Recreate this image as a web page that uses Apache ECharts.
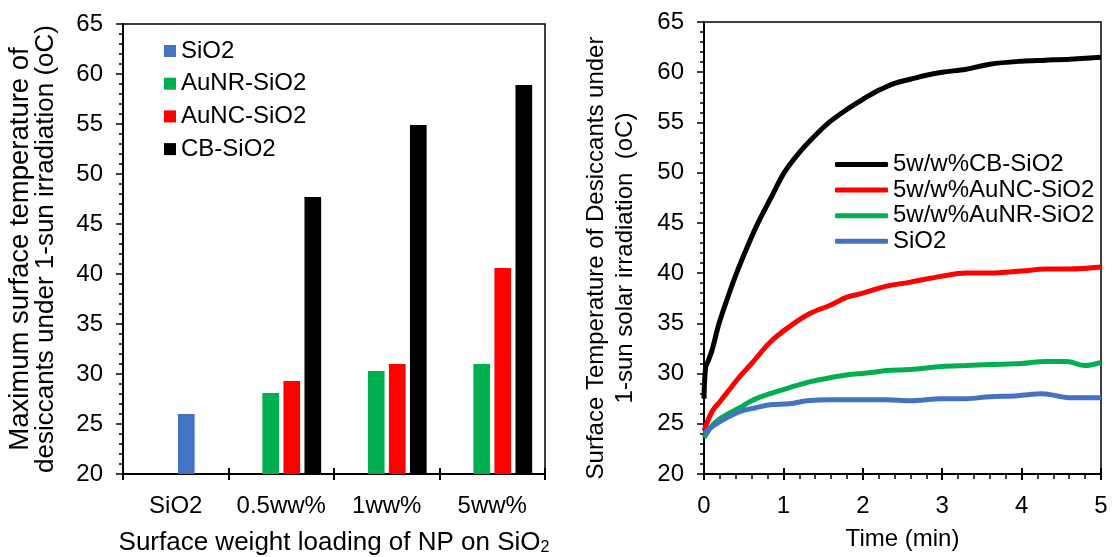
<!DOCTYPE html>
<html><head><meta charset="utf-8">
<script src="https://cdn.jsdelivr.net/npm/echarts@6/dist/echarts.min.js"></script>
<style>html,body{margin:0;padding:0;background:#fff}#c{width:1112px;height:557px}</style>
</head><body><div id="c"></div><script>
// ---- Left chart (bars) ----
const categories = ['SiO2', '0.5ww%', '1ww%', '5ww%'];
const barSiO2 = [26.0, null, null, null];   // drawn in the third slot as in the reference
const barAuNR = [null, 28.1, 30.3, 31.0];
const barAuNC = [null, 29.3, 31.0, 40.6];
const barCB   = [null, 47.7, 54.9, 58.9];
const yTicksLeft = { min: 20, max: 65, interval: 5 };

// ---- Right chart (lines) ----
const tCB = [0, 0.02, 0.05, 0.1, 0.19, 0.3, 0.41, 0.55, 0.68, 0.85, 1.01, 1.2, 1.4, 1.59, 1.8, 2.0, 2.2, 2.4, 2.6, 2.8, 3.0, 3.3, 3.6, 4.0, 4.3, 4.6, 5.0];
const vCB = [27.5, 30.6, 31.2, 32.3, 35.0, 37.6, 40.0, 42.7, 45.0, 47.6, 50.0, 52.0, 53.7, 55.1, 56.3, 57.3, 58.2, 58.9, 59.3, 59.7, 60.0, 60.3, 60.8, 61.1, 61.2, 61.3, 61.5];
const tNC = [0, 0.1, 0.2, 0.3, 0.45, 0.6, 0.83, 1.08, 1.34, 1.59, 1.8, 2.0, 2.3, 2.6, 3.0, 3.3, 3.6, 4.0, 4.3, 4.6, 5.0];
const vNC = [24.3, 26.2, 27.2, 28.2, 29.7, 31.0, 33.1, 34.7, 36.0, 36.8, 37.6, 38.0, 38.7, 39.1, 39.7, 40.0, 40.0, 40.2, 40.4, 40.4, 40.6];
const tNR = [0, 0.1, 0.2, 0.33, 0.45, 0.6, 0.83, 1.08, 1.34, 1.6, 1.84, 2.1, 2.3, 2.6, 3.0, 3.3, 3.6, 4.0, 4.3, 4.57, 4.8, 5.0];
const vNR = [23.6, 24.8, 25.5, 26.1, 26.6, 27.3, 28.0, 28.6, 29.2, 29.6, 29.9, 30.1, 30.3, 30.4, 30.7, 30.8, 30.9, 31.0, 31.2, 31.2, 30.8, 31.1];
const tS  = [0, 0.1, 0.24, 0.45, 0.65, 0.83, 1.08, 1.3, 1.59, 2.0, 2.3, 2.6, 3.0, 3.3, 3.6, 3.95, 4.26, 4.6, 5.0];
const vS  = [24.0, 24.7, 25.4, 26.2, 26.6, 26.9, 27.0, 27.3, 27.4, 27.4, 27.4, 27.3, 27.5, 27.5, 27.7, 27.8, 28.0, 27.6, 27.6];
const xTicksRight = { min: 0, max: 5, interval: 1 };

const C_BLUE = '#4472C4', C_GREEN = '#00B050', C_RED = '#FF0000', C_BLACK = '#000000';
const FONT = "'Liberation Sans', Arial, sans-serif";
const zip = (t, v) => t.map((x, i) => [x, v[i]]);

const chart = echarts.init(document.getElementById('c'), null, { renderer: 'canvas' });

const axisLineStyle = { show: true, lineStyle: { color: '#000', width: 2 } };
const lbl = (m) => ({ fontSize: 24, color: '#000', fontFamily: FONT, margin: m });

const barBase = { type: 'bar', xAxisIndex: 0, yAxisIndex: 0, barWidth: 16.7, barGap: '26%' };
const lineBase = { type: 'line', xAxisIndex: 2, yAxisIndex: 2, showSymbol: false, smooth: 0.35 };
const gridBase = { containLabel: false, outerBoundsMode: 'none' };

const option = {
  animation: false,
  backgroundColor: '#fff',
  textStyle: { fontFamily: FONT },
  grid: [
    Object.assign({ left: 123, top: 24, width: 422, height: 450, show: true, borderColor: '#000', borderWidth: 1.5 }, gridBase),
    Object.assign({ left: 123, top: 24, width: 422, height: 450 }, gridBase),
    Object.assign({ left: 704, top: 22, width: 397, height: 452, show: true, borderColor: '#000', borderWidth: 1.5 }, gridBase),
    Object.assign({ left: 704, top: 22, width: 397, height: 452 }, gridBase)
  ],
  legend: [
    {
      data: ['SiO2', 'AuNR-SiO2', 'AuNC-SiO2', 'CB-SiO2'],
      orient: 'vertical', left: 159, top: 34, icon: 'rect', itemWidth: 12, itemHeight: 12, itemGap: 8.7,
      selectedMode: false,
      textStyle: { fontSize: 24, lineHeight: 24, color: '#000', fontFamily: FONT }
    },
    {
      data: ['5w/w%CB-SiO2', '5w/w%AuNC-SiO2', '5w/w%AuNR-SiO2', 'SiO2 (t)'],
      formatter: n => (n === 'SiO2 (t)' ? 'SiO2' : n),
      orient: 'vertical', left: 830, top: 147, icon: 'roundRect', itemWidth: 53, itemHeight: 5, itemGap: 0.6,
      selectedMode: false,
      textStyle: { fontSize: 24, lineHeight: 25, color: '#000', fontFamily: FONT }
    }
  ],
  xAxis: [
    {
      gridIndex: 0, type: 'category', data: categories,
      axisLine: axisLineStyle,
      axisTick: { show: true, length: 6, lineStyle: { color: '#000', width: 2 } },
      axisLabel: Object.assign(lbl(20), { interval: 0 }),
      name: '{m|Surface weight loading of NP on SiO}{s|2}',
      nameLocation: 'middle', nameGap: 56,
      nameTextStyle: {
        color: '#000', fontFamily: FONT,
        rich: {
          m: { fontSize: 26, lineHeight: 26, verticalAlign: 'top', padding: [0, 0, 5, 0], color: '#000', fontFamily: FONT },
          s: { fontSize: 16, lineHeight: 16, verticalAlign: 'bottom', color: '#000', fontFamily: FONT }
        }
      }
    },
    {
      gridIndex: 1, type: 'category', data: categories,
      axisLine: { show: false },
      axisTick: { show: true, inside: true, length: 6, lineStyle: { color: '#000', width: 2 } },
      axisLabel: { show: false }
    },
    {
      gridIndex: 2, type: 'value', min: xTicksRight.min, max: xTicksRight.max, interval: xTicksRight.interval,
      axisLine: axisLineStyle,
      axisTick: { show: true, length: 6, lineStyle: { color: '#000', width: 2 } },
      minorTick: { show: true, splitNumber: 5, length: 5, lineStyle: { color: '#000', width: 1.5 } },
      splitLine: { show: false },
      axisLabel: lbl(20),
      name: 'Time (min)', nameLocation: 'middle', nameGap: 53,
      nameTextStyle: { fontSize: 24, color: '#000', fontFamily: FONT }
    },
    {
      gridIndex: 3, type: 'value', min: xTicksRight.min, max: xTicksRight.max, interval: xTicksRight.interval,
      axisLine: { show: false },
      axisTick: { show: true, inside: true, length: 6, lineStyle: { color: '#000', width: 2 } },
      splitLine: { show: false },
      axisLabel: { show: false }
    }
  ],
  yAxis: [
    {
      gridIndex: 0, type: 'value', min: yTicksLeft.min, max: yTicksLeft.max, interval: yTicksLeft.interval,
      axisLine: axisLineStyle,
      axisTick: { show: true, length: 7, lineStyle: { color: '#000', width: 1.5 } },
      minorTick: { show: true, splitNumber: 5, length: 4, lineStyle: { color: '#000', width: 1.5 } },
      splitLine: { show: false },
      axisLabel: lbl(20),
      name: '{a|Maximum surface temperature of}\n{b|desiccants under 1-sun irradiation (oC)}',
      nameLocation: 'middle', nameGap: 64,
      nameTextStyle: {
        color: '#000', fontFamily: FONT,
        rich: {
          a: { fontSize: 27.5, lineHeight: 26, color: '#000', fontFamily: FONT },
          b: { fontSize: 26, lineHeight: 26, color: '#000', fontFamily: FONT }
        }
      }
    },
    { gridIndex: 1, type: 'value', min: 20, max: 65, show: false },
    {
      gridIndex: 2, type: 'value', min: 20, max: 65, interval: 5,
      axisLine: axisLineStyle,
      axisTick: { show: true, length: 7, lineStyle: { color: '#000', width: 1.5 } },
      minorTick: { show: true, splitNumber: 5, length: 4, lineStyle: { color: '#000', width: 1.5 } },
      splitLine: { show: false },
      axisLabel: lbl(20),
      name: 'Surface Temperature of Desiccants under\n1-sun solar irradiation  (oC)',
      nameLocation: 'middle', nameGap: 64,
      nameTextStyle: { fontSize: 24, lineHeight: 29, color: '#000', fontFamily: FONT, padding: [0, 20, 0, 0] }
    },
    { gridIndex: 3, type: 'value', min: 20, max: 65, show: false }
  ],
  series: [
    Object.assign({}, barBase, { name: 'SiO2', itemStyle: { color: C_BLUE }, data: categories.map(() => null) }),
    Object.assign({}, barBase, { name: 'AuNR-SiO2', itemStyle: { color: C_GREEN }, data: barAuNR }),
    Object.assign({}, barBase, {
      name: 'AuNC-SiO2', itemStyle: { color: C_RED },
      data: barAuNC.map((v, i) => (v == null && barSiO2[i] != null ? { value: barSiO2[i], itemStyle: { color: C_BLUE } } : v))
    }),
    Object.assign({}, barBase, { name: 'CB-SiO2', itemStyle: { color: C_BLACK }, data: barCB }),

    Object.assign({}, lineBase, { name: '5w/w%CB-SiO2', itemStyle: { color: C_BLACK }, lineStyle: { color: C_BLACK, width: 5 }, data: zip(tCB, vCB) }),
    Object.assign({}, lineBase, { name: '5w/w%AuNC-SiO2', itemStyle: { color: C_RED }, lineStyle: { color: C_RED, width: 5 }, data: zip(tNC, vNC) }),
    Object.assign({}, lineBase, { name: '5w/w%AuNR-SiO2', itemStyle: { color: C_GREEN }, lineStyle: { color: C_GREEN, width: 5 }, data: zip(tNR, vNR) }),
    Object.assign({}, lineBase, { name: 'SiO2 (t)', itemStyle: { color: C_BLUE }, lineStyle: { color: C_BLUE, width: 5 }, data: zip(tS, vS) })
  ]
};
chart.setOption(option);
</script></body></html>
